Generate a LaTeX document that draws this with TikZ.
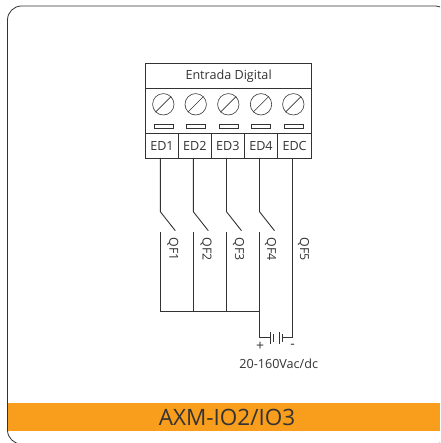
\documentclass[tikz,border=0pt]{standalone}
\usepackage{fontspec}
\setmainfont{Open Sans}
\definecolor{bandorange}{HTML}{F99D1C}
\definecolor{inkgray}{HTML}{333333}
\tikzset{
	wire/.style={draw=inkgray,line width=0.9pt},
	cell/.style={draw=inkgray,line width=1pt,minimum height=24.5pt,text=inkgray,inner sep=0pt,font=\fontsize{12.6}{14}\selectfont},
	screw/.style={circle,draw=inkgray,line width=0.6pt,minimum size=21.4pt,inner sep=0pt},
	slot/.style={draw=inkgray,line width=0.6pt,minimum width=19pt,minimum height=3.5pt,inner sep=0pt},
	qflabel/.style={rotate=-90,text=inkgray,inner sep=0pt,font=\fontsize{12.4}{14}\selectfont}
}
\begin{document}
\begin{tikzpicture}[x=1pt,y=-1pt]
	\useasboundingbox (0,0) rectangle (440,443);
	\clip (0,0) rectangle (440,443);
	% outer frame and band
	\draw [inkgray,line width=0.8pt,rounded corners=14pt] (7.5,6) rectangle (449,444);
	\fill [bandorange] (8,403) rectangle (440,430.7);
	\node (band) [text=inkgray,inner sep=0pt,font=\fontsize{22.5}{24}\selectfont] at (227,417) {AXM-IO2/IO3};

	% terminal block
	\node (title) [cell,minimum width=166.2pt,minimum height=25pt] at (228.6,76) {Entrada Digital};
	\draw [wire,line width=1pt] (145.5,88.5) rectangle (311.7,133.5);
	\foreach \n/\x/\w/\l in {1/162/33/ED1,2/194.8/32.5/ED2,3/227.8/33.5/ED3,4/261/33/ED4,5/294.6/34.2/EDC} {
		\node (ed\n) [cell,minimum width=\w pt] at (\x,145.8) {\l};
	}
	\foreach \n/\x in {1/163.3,2/195.7,3/228.3,4/261,5/293.3} {
		\node (screw\n) [screw] at (\x,104.3) {};
		\draw [inkgray,line width=0.6pt] (screw\n.225) -- (screw\n.45);
		\node (slot\n) [slot] at (\x,126.3) {};
	}

	% switches
	\foreach \n/\x/\q in {1/160.3/172.7,2/193.3/206,3/226.5/238.5,4/259.5/270.5} {
		\coordinate (top\n) at (\x,158);
		\coordinate (hinge\n) at (\x,211.7);
		\coordinate (tip\n) at (\x+15,230.7);
		\coordinate (low\n) at (\x,232.3);
		\coordinate (bus\n) at (\x,311);
		\draw [wire] (top\n) -- (hinge\n) -- (tip\n);
		\draw [wire] (low\n) -- (bus\n);
		\node (qf\n) [qflabel] at (\q,249) {QF\n};
	}
	\node (qf5) [qflabel] at (303.5,249) {QF5};
	\draw [wire] (bus1) -- (bus4);

	% supply
	\coordinate (top5) at (292.7,158);
	\coordinate (end4) at (259.5,337.3);
	\coordinate (end5) at (292.7,337.3);
	\coordinate (pl) at (270,337.3);
	\coordinate (pr) at (282.7,337.3);
	\draw [wire] (bus4) -- (end4) -- (pl);
	\draw [wire] (top5) -- (end5) -- (pr);
	\draw [wire,line width=0.7pt] (270,331.7) -- (270,344);
	\draw [wire,line width=0.7pt] (273.5,334) -- (273.5,342);
	\draw [wire,line width=0.7pt] (279.3,331.7) -- (279.3,344);
	\draw [wire,line width=0.7pt] (282.7,334) -- (282.7,342);
	\node (plus) [text=inkgray,inner sep=0pt,font=\fontsize{14}{16}\selectfont] at (260,346) {+};
	\node (minus) [text=inkgray,inner sep=0pt,font=\fontsize{14}{16}\selectfont] at (292.7,346) {-};
	\node (volt) [text=inkgray,inner sep=0pt,font=\fontsize{12.6}{14}\selectfont] at (278.7,364) {20-160Vac/dc};
\end{tikzpicture}
\end{document}
